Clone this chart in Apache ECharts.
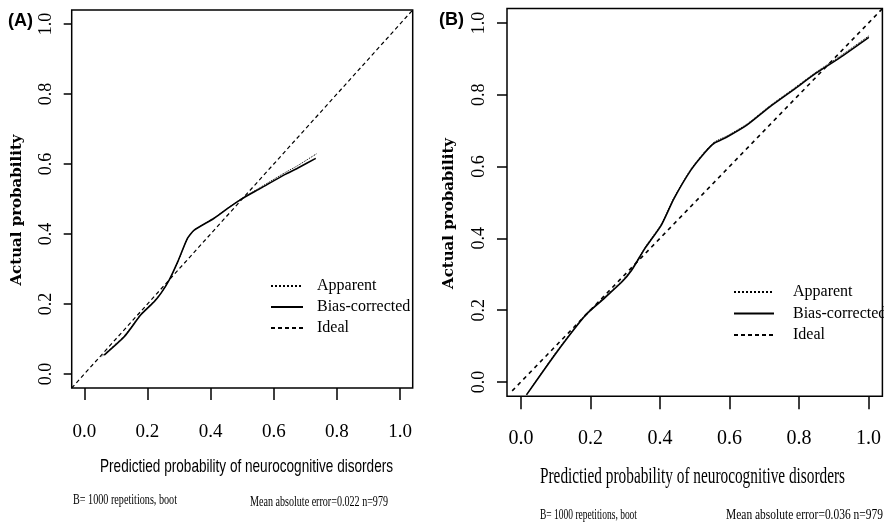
<!DOCTYPE html>
<html>
<head>
<meta charset="utf-8">
<script src="https://cdn.jsdelivr.net/npm/echarts@6/dist/echarts.min.js"></script>
<style>html,body{margin:0;padding:0;background:#fff}#c{width:884px;height:525px}</style>
</head>
<body>
<div id="c"></div>
<script>
// ---- data ----
const tickValues = [0, 0.2, 0.4, 0.6, 0.8, 1.0];
const axisMin = -0.04, axisMax = 1.04;
const legendNames = ['Apparent', 'Bias-corrected', 'Ideal'];

const biasA = [[0.063,0.054],[0.127,0.107],[0.179,0.169],[0.222,0.207],[0.243,0.231],[0.269,0.269],[0.296,0.321],[0.327,0.388],[0.348,0.411],[0.411,0.445],[0.454,0.473],[0.496,0.499],[0.559,0.531],[0.633,0.569],[0.675,0.588],[0.733,0.616]];
const apparentA = [[0.055,0.050],[0.127,0.110],[0.180,0.172],[0.222,0.210],[0.245,0.234],[0.270,0.270],[0.297,0.322],[0.327,0.388],[0.348,0.411],[0.411,0.446],[0.454,0.474],[0.496,0.500],[0.559,0.534],[0.633,0.574],[0.675,0.595],[0.735,0.629]];
const idealA = [[-0.04,-0.04],[1.04,1.04]];

const biasB = [[0.016,-0.036],[0.101,0.080],[0.187,0.187],[0.234,0.228],[0.291,0.279],[0.319,0.312],[0.357,0.372],[0.404,0.437],[0.440,0.510],[0.489,0.590],[0.530,0.640],[0.556,0.665],[0.594,0.683],[0.651,0.716],[0.717,0.767],[0.783,0.813],[0.849,0.860],[0.916,0.902],[1.001,0.960]];
const apparentB = [[0.018,-0.033],[0.101,0.083],[0.187,0.190],[0.234,0.231],[0.291,0.282],[0.319,0.315],[0.357,0.375],[0.404,0.440],[0.440,0.513],[0.489,0.593],[0.530,0.643],[0.556,0.668],[0.594,0.686],[0.651,0.719],[0.717,0.770],[0.783,0.816],[0.849,0.863],[0.916,0.906],[1.001,0.964]];
const idealB = [[-0.025,-0.025],[1.04,1.04]];

const xTitle = 'Predictied probability of neurocognitive disorders';
const yTitle = 'Actual probability';
const noteBoot = 'B= 1000 repetitions, boot';
const noteA = 'Mean absolute error=0.022 n=979';
const noteB = 'Mean absolute error=0.036 n=979';

// ---- helpers ----
const ctx2d = document.createElement('canvas').getContext('2d');
function measure(text, font){ ctx2d.font = font; return ctx2d.measureText(text).width; }
function fitText(text, font, left, cy, targetW){
  const w = measure(text, font);
  return {type:'text', x:left, y:cy, scaleX: targetW / w, originX:0, originY:0, silent:true,
    style:{text:text, font:font, fill:'#000', align:'left', verticalAlign:'middle', textAlign:'left', textVerticalAlign:'middle'}};
}
const fmt = v => v.toFixed(1);
const serif = '"Liberation Serif", "Times New Roman", serif';

function xAx(gi, margin, size, tickLen){
  return {gridIndex:gi, type:'value', min:axisMin, max:axisMax, position:'bottom',
    axisLine:{show:false, onZero:false}, splitLine:{show:false},
    axisTick:{show:true, inside:false, customValues:tickValues, length:tickLen, lineStyle:{color:'#000', width:1.5}},
    axisLabel:{customValues:tickValues, formatter:fmt, margin:margin, color:'#000', fontFamily:serif, fontSize:size}};
}
function yAx(gi, margin, tickLen, nameGap){
  return {gridIndex:gi, type:'value', min:axisMin, max:axisMax, position:'left',
    axisLine:{show:false, onZero:false}, splitLine:{show:false},
    axisTick:{show:true, inside:false, customValues:tickValues, length:tickLen, lineStyle:{color:'#000', width:1.5}},
    axisLabel:{customValues:tickValues, formatter:fmt, margin:margin, rotate:90, color:'#000', fontFamily:serif, fontSize:18},
    name:yTitle, nameLocation:'middle', nameRotate:90, nameGap:nameGap,
    nameTextStyle:{color:'#000', fontFamily:'"DejaVu Serif", serif', fontWeight:'bold', fontSize:15, padding:[0,22,0,0]}};
}
function line(name, gi, data, type, width){
  return {name:name, type:'line', xAxisIndex:gi, yAxisIndex:gi, data:data, smooth: data.length > 2 ? 0.2 : false,
    symbol:'none', silent:true, animation:false,
    lineStyle:{color:'#000', width:width, type:type}, itemStyle:{color:'#000'}};
}

const chart = echarts.init(document.getElementById('c'), null, {renderer:'canvas'});
chart.setOption({
  backgroundColor:'#fff',
  animation:false,
  grid:[
    {left:71.7, top:10, width:341, height:378, show:true, borderColor:'#000', borderWidth:1.5, backgroundColor:'transparent'},
    {left:507, top:8.6, width:380, height:387.7, show:true, borderColor:'#000', borderWidth:1.5, backgroundColor:'transparent'}
  ],
  xAxis:[xAx(0, 35, 19, 12), xAx(1, 32, 20, 13)],
  yAxis:[yAx(0, 16, 8, 47), yAx(1, 19, 10, 50)],
  legend:[
    {data:legendNames, orient:'vertical', left:270, top:278, padding:0, itemWidth:32, itemHeight:14, itemGap:5,
      selectedMode:false, itemStyle:{opacity:0, borderWidth:0},
      textStyle:{fontFamily:serif, fontSize:16, color:'#000', padding:[0,0,0,9]}},
    {data:legendNames, orient:'vertical', left:733, top:284, padding:0, itemWidth:40, itemHeight:14, itemGap:5.5,
      selectedMode:false, itemStyle:{opacity:0, borderWidth:0},
      textStyle:{fontFamily:serif, fontSize:16, color:'#000', padding:[0,0,0,14]}}
  ],
  series:[
    line('Apparent', 0, apparentA, 'dotted', 1),
    line('Bias-corrected', 0, biasA, 'solid', 1.6),
    line('Ideal', 0, idealA, [4,3], 1.2),
    line('Apparent', 1, apparentB, 'dotted', 1),
    line('Bias-corrected', 1, biasB, 'solid', 1.6),
    line('Ideal', 1, idealB, [4,4], 1.6)
  ],
  graphic:[
    {type:'text', x:8, y:21, silent:true, style:{text:'(A)', font:'bold 18px "Liberation Sans", Arial, sans-serif', fill:'#000', align:'left', verticalAlign:'middle', textAlign:'left', textVerticalAlign:'middle'}},
    {type:'text', x:439, y:20, silent:true, style:{text:'(B)', font:'bold 18px "Liberation Sans", Arial, sans-serif', fill:'#000', align:'left', verticalAlign:'middle', textAlign:'left', textVerticalAlign:'middle'}},
    fitText(xTitle, '19px "Liberation Sans", Arial, sans-serif', 100, 467, 293),
    fitText(xTitle, '24px "Liberation Serif", serif', 540, 477, 305),
    fitText(noteBoot, '15px "Liberation Serif", serif', 73, 500, 104),
    fitText(noteA, '15px "Liberation Serif", serif', 250, 502, 138),
    fitText(noteBoot, '15px "Liberation Serif", serif', 540, 515, 97),
    fitText(noteB, '15px "Liberation Serif", serif', 726, 515, 157)
  ]
});
</script>
</body>
</html>
